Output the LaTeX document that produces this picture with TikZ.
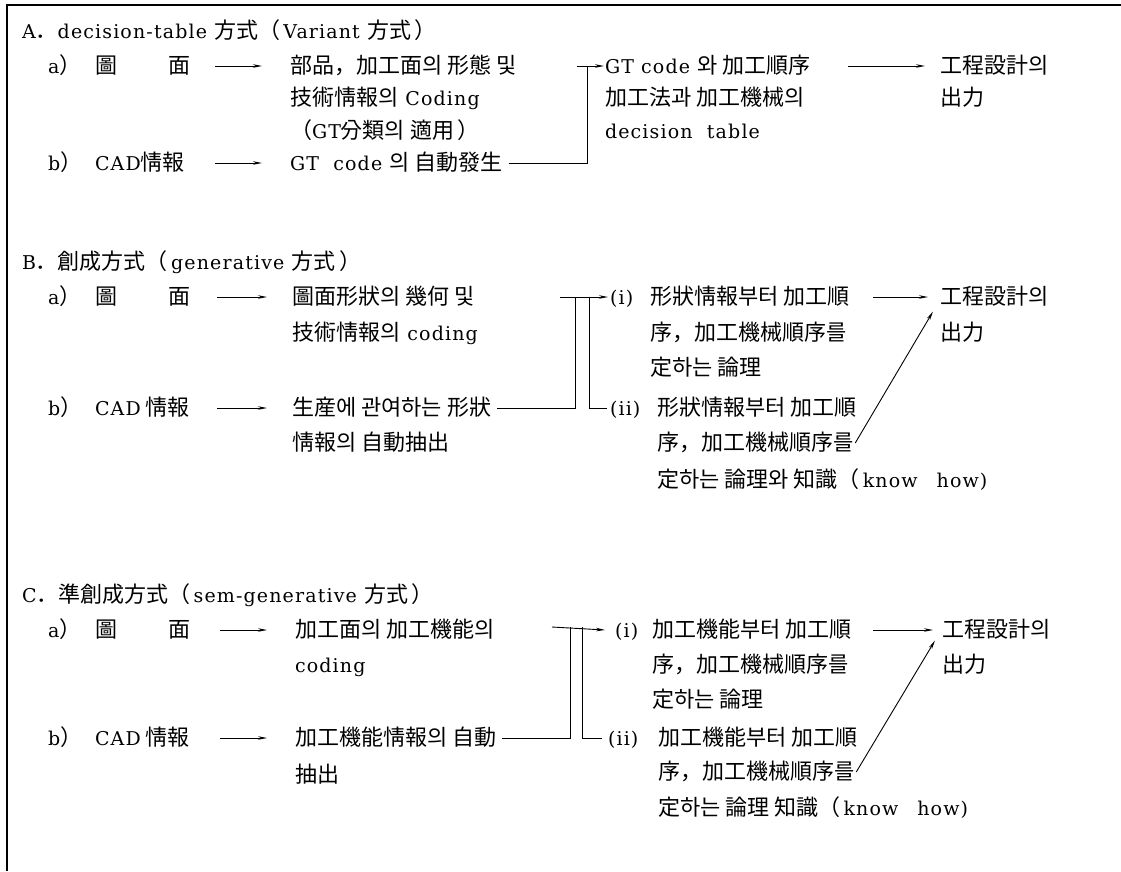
\documentclass[tikz,border=0pt]{standalone}
\usepackage{fontspec}
\setmainfont{DejaVu Serif}[LetterSpace=6]
\newfontfamily\krf{Noto Sans CJK KR}
\newcommand\K[1]{{\krf\fontsize{22}{26}\selectfont #1}}
\usetikzlibrary{arrows.meta}
\tikzset{
  every node/.style={inner sep=0pt, outer sep=0pt, anchor=west, text height=19pt, text depth=4pt, font=\fontsize{19}{23}\selectfont},
  arr/.style={-{Stealth[length=9pt,width=3.5pt]}, line width=0.9pt},
  ln/.style={line width=0.9pt},
  frame/.style={line width=2pt}
}
\begin{document}
\begin{tikzpicture}[x=1pt,y=-1pt]
\useasboundingbox (0,0) rectangle (1121,871);
\draw[frame] (7,871) -- (7,5) -- (1121,5);

% ---------- A ----------
\node (A0) at (22,31) {A\K{．}decision-table \K{方式（}\,Variant \K{方式\,）}};
\node (Aa1) at (48,66) {a\K{）}};
\node (Aa2) at (95,66) {\K{圖}};
\node (Aa3) at (168,66) {\K{面}};
\node (Aa4) at (290,66) {\K{部品，加工面의 形態 및}};
\node (Aa5) at (290,98) {\K{技術情報의} Coding};
\node (Aa6) at (290,131) {\K{（}GT\K{分類의 適用\,）}};
\node (Ab1) at (48,163) {b\K{）}};
\node (Ab2) at (95,163) {CAD\K{情報}};
\node (Ab3) at (290,163) {GT\ \ code \K{의 自動發生}};
\node (Ar1) at (605,66) {GT code \K{와 加工順序}};
\node (Ar2) at (605,98) {\K{加工法과 加工機械의}};
\node (Ar3) at (605,131) {decision\ \ table};
\node (Ao1) at (940,66) {\K{工程設計의}};
\node (Ao2) at (940,98) {\K{出力}};
\coordinate (Aj) at (587,66);
\draw[arr] ([xshift=-75pt]Aa4.west) -- ([xshift=-28pt]Aa4.west);
\draw[arr] ([xshift=-75pt]Ab3.west) -- ([xshift=-28pt]Ab3.west);
\draw[ln] ([xshift=6pt]Ab3.east) -| (Aj);
\draw[arr] ([xshift=-10pt]Aj) -- ([xshift=-1pt]Ar1.west);
\draw[arr] ([xshift=-92pt]Ao1.west) -- ([xshift=-15pt]Ao1.west);

% ---------- B ----------
\node (B0) at (22,262) {B\K{．創成方式（}\,generative \K{方式\,）}};
\node (Ba1) at (48,297) {a\K{）}};
\node (Ba2) at (95,297) {\K{圖}};
\node (Ba3) at (168,297) {\K{面}};
\node (Ba4) at (292,297) {\K{圖面形狀의 幾何 및}};
\node (Ba5) at (292,333) {\K{技術情報의} coding};
\node (Bb1) at (48,408) {b\K{）}};
\node (Bb2) at (95,408) {CAD\K{ 情報}};
\node (Bb3) at (292,408) {\K{生産에 관여하는 形狀}};
\node (Bb4) at (292,443) {\K{情報의 自動抽出}};
\node (Bi0) at (610,297) {(i)};
\node (Bi1) at (650,297) {\K{形狀情報부터 加工順}};
\node (Bi2) at (650,333) {\K{序，加工機械順序를}};
\node (Bi3) at (650,368) {\K{定하는 論理}};
\node (Bii0) at (610,408) {(ii)};
\node (Bii1) at (657,408) {\K{形狀情報부터 加工順}};
\node (Bii2) at (657,443) {\K{序，加工機械順序를}};
\node (Bii3) at (657,480) {\K{定하는 論理와 知識（}\,know\quad how)};
\node (Bo1) at (940,297) {\K{工程設計의}};
\node (Bo2) at (940,333) {\K{出力}};
\coordinate (BjL) at (575,297);
\coordinate (BjR) at (589,297);
\draw[arr] ([xshift=-75pt]Ba4.west) -- ([xshift=-25pt]Ba4.west);
\draw[arr] ([xshift=-75pt]Bb3.west) -- ([xshift=-25pt]Bb3.west);
\draw[ln] ([xshift=6pt]Bb3.east) -| (BjL);
\draw[ln] (BjR) |- ([xshift=-3pt]Bii0.west);
\draw[arr] ([xshift=-15pt]BjL) -- ([xshift=-2pt]Bi0.west);
\draw[arr] ([xshift=-67pt]Bo1.west) -- ([xshift=-12pt]Bo1.west);
\draw[arr] ([xshift=2pt]Bii2.east) -- ([xshift=-7pt,yshift=-3pt]Bo1.south west);

% ---------- C ----------
\node (C0) at (22,595) {C\K{．準創成方式（}\,sem-generative \K{方式\,）}};
\node (Ca1) at (48,630) {a\K{）}};
\node (Ca2) at (95,630) {\K{圖}};
\node (Ca3) at (168,630) {\K{面}};
\node (Ca4) at (295,630) {\K{加工面의 加工機能의}};
\node (Ca5) at (295,665) {coding};
\node (Cb1) at (48,738) {b\K{）}};
\node (Cb2) at (95,738) {CAD\K{ 情報}};
\node (Cb3) at (295,738) {\K{加工機能情報의 自動}};
\node (Cb4) at (295,775) {\K{抽出}};
\node (Ci0) at (615,630) {(i)};
\node (Ci1) at (652,630) {\K{加工機能부터 加工順}};
\node (Ci2) at (652,665) {\K{序，加工機械順序를}};
\node (Ci3) at (652,700) {\K{定하는 論理}};
\node (Cii0) at (608,738) {(ii)};
\node (Cii1) at (658,738) {\K{加工機能부터 加工順}};
\node (Cii2) at (658,772) {\K{序，加工機械順序를}};
\node (Cii3) at (658,808) {\K{定하는 論理 知識（}\,know\quad how)};
\node (Co1) at (942,630) {\K{工程設計의}};
\node (Co2) at (942,665) {\K{出力}};
\coordinate (CjL) at (570,627);
\coordinate (CjR) at (582,627);
\draw[arr] ([xshift=-75pt]Ca4.west) -- ([xshift=-28pt]Ca4.west);
\draw[arr] ([xshift=-75pt]Cb3.west) -- ([xshift=-28pt]Cb3.west);
\draw[ln] ([xshift=6pt]Cb3.east) -| (CjL);
\draw[ln] (CjR) |- ([xshift=-6pt]Cii0.west);
\draw[arr] ([xshift=-18pt]CjL) -- ([xshift=-10pt]Ci0.west);
\draw[arr] ([xshift=-69pt]Co1.west) -- ([xshift=-9pt]Co1.west);
\draw[arr] ([xshift=2pt]Cii2.east) -- ([xshift=-7pt,yshift=1pt]Co1.south west);
\end{tikzpicture}
\end{document}
